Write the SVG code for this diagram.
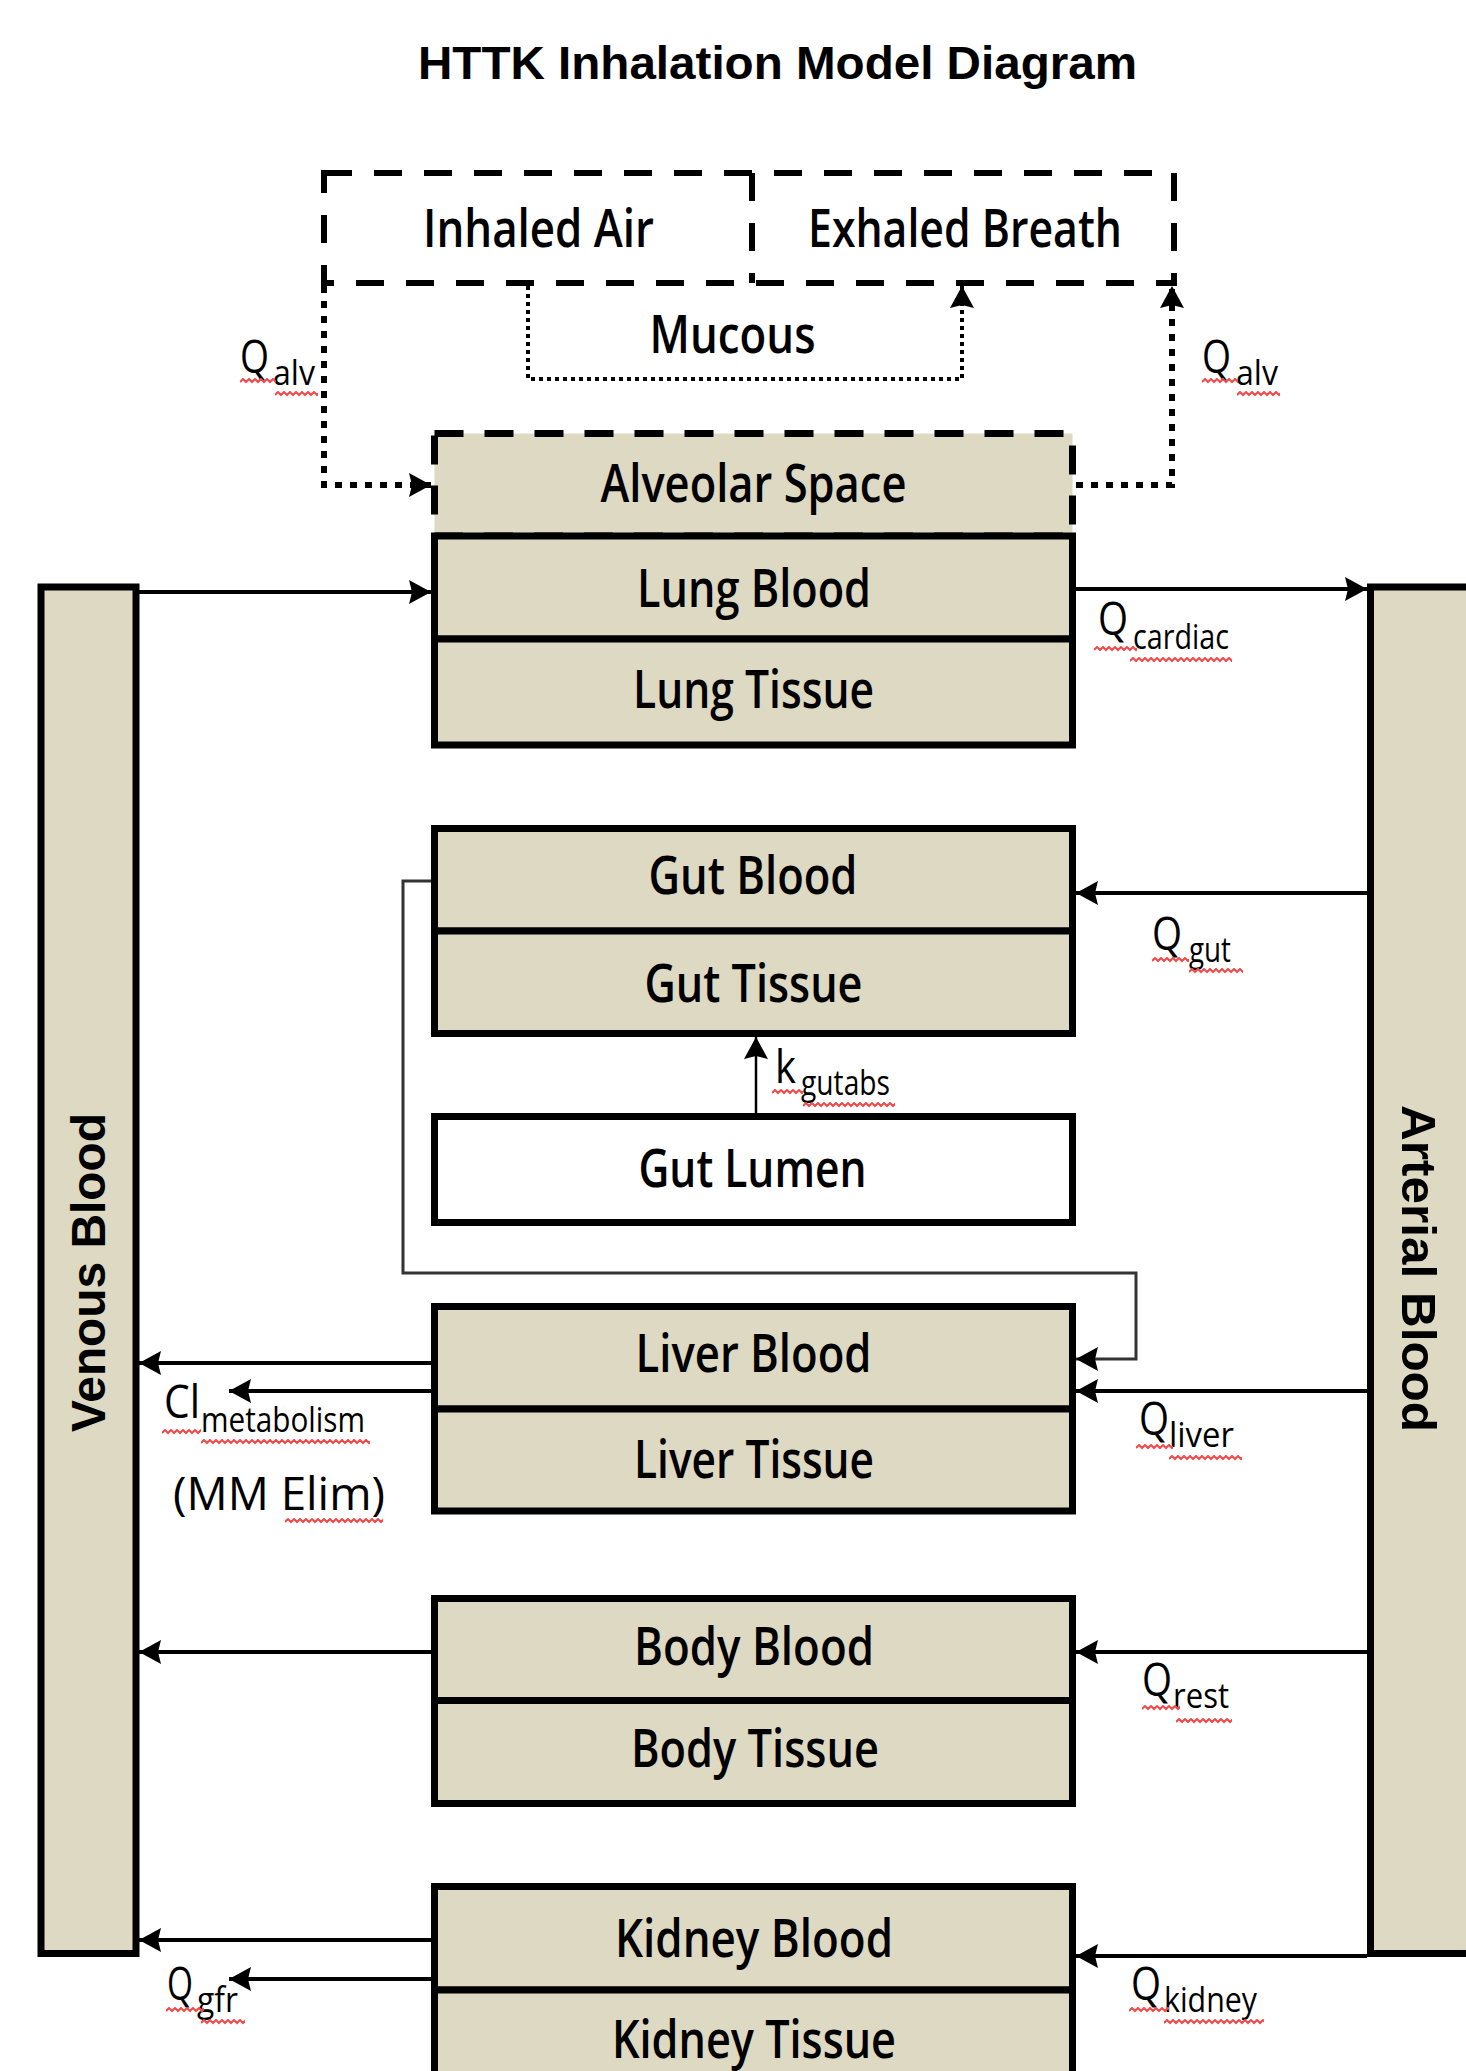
<svg xmlns="http://www.w3.org/2000/svg" xmlns:xlink="http://www.w3.org/1999/xlink" width="1466" height="2071" viewBox="0 0 1466 2071">
<style>
.title{font-family:"Liberation Sans",Arial,sans-serif;font-weight:bold;font-size:47px;text-anchor:middle;fill:#000}
.bar{fill:#DDD9C3;stroke:#000;stroke-width:7}
.barlbl{font-family:"Liberation Sans",Arial,sans-serif;font-weight:bold;font-size:48px;text-anchor:middle;fill:#000}
.box{fill:#DDD9C3;stroke:#000;stroke-width:7}
.lumen{fill:#fff;stroke:#000;stroke-width:7}
.dbox{fill:none;stroke:#000;stroke-width:6;stroke-dasharray:28 22}
.dalv{fill:#DDD9C3;stroke:#000;stroke-width:7;stroke-dasharray:29 21}
.t{font-family:"Open Sans","Noto Sans",sans-serif;font-size:52px;font-weight:600;text-anchor:middle;fill:#000}
.q{font-family:"Open Sans","Noto Sans",sans-serif;font-size:46px;fill:#000}
.sub{font-size:34px}
.cn{fill:none;stroke:#000;stroke-width:4}
.thin{fill:none;stroke:#000;stroke-width:2.5}
.gray{fill:none;stroke:#333;stroke-width:3}
.dot{fill:none;stroke:#000;stroke-width:6;stroke-dasharray:7 8}
.fdot{fill:none;stroke:#000;stroke-width:4;stroke-dasharray:4 4}
.zz{fill:none;stroke:#f44848;stroke-width:2}
</style>
<defs>
<marker id="ah" viewBox="0 0 22 24" refX="22" refY="12" markerWidth="22" markerHeight="24" markerUnits="userSpaceOnUse" orient="auto">
<path d="M0,0 L22,12 L0,24 L3,12 Z" fill="#000"/>
</marker>
<path id="zig" class="zz" d="M0 4l3-3 3 3 3-3 3 3 3-3 3 3 3-3 3 3 3-3 3 3 3-3 3 3 3-3 3 3 3-3 3 3 3-3 3 3 3-3 3 3 3-3 3 3 3-3 3 3 3-3 3 3 3-3 3 3 3-3 3 3 3-3 3 3 3-3 3 3 3-3 3 3 3-3 3 3 3-3 3 3 3-3 3 3 3-3 3 3 3-3 3 3 3-3 3 3 3-3 3 3 3-3 3 3 3-3 3 3 3-3 3 3 3-3 3 3 3-3 3 3"/>
</defs>

<text class="title" x="777.5" y="79" textLength="719" lengthAdjust="spacingAndGlyphs">HTTK Inhalation Model Diagram</text>

<g id="venous-blood">
<rect class="bar" x="41" y="587" width="95" height="1366.5"/>
<text class="barlbl" transform="translate(105,1272.5) rotate(-90)" textLength="319" lengthAdjust="spacingAndGlyphs">Venous Blood</text>
</g>
<g id="arterial-blood">
<rect class="bar" x="1370.5" y="587" width="110" height="1366.5"/>
<text class="barlbl" transform="translate(1402,1268.5) rotate(90)" textLength="327" lengthAdjust="spacingAndGlyphs">Arterial Blood</text>
</g>

<g id="air">
<rect class="dbox" x="324" y="173" width="850" height="110"/>
<line class="dbox" x1="752" y1="173" x2="752" y2="283"/>
</g>
<g id="inhaled-air">
<text class="t" x="538.5" y="247" textLength="231" lengthAdjust="spacingAndGlyphs">Inhaled Air</text>
</g>
<g id="exhaled-breath">
<text class="t" x="965" y="247" textLength="314" lengthAdjust="spacingAndGlyphs">Exhaled Breath</text>
</g>
<g id="mucous">
<text class="t" x="732.5" y="353" textLength="166" lengthAdjust="spacingAndGlyphs">Mucous</text>
</g>

<g id="alveolar-space">
<rect class="dalv" x="434.5" y="433.5" width="638" height="102.5"/>
<text class="t" x="753.5" y="502" textLength="306" lengthAdjust="spacingAndGlyphs">Alveolar Space</text>
</g>
<g id="lung-blood">
<rect class="box" x="434.5" y="536" width="638" height="103"/>
<text class="t" x="754" y="607" textLength="234" lengthAdjust="spacingAndGlyphs">Lung Blood</text>
</g>
<g id="lung-tissue">
<rect class="box" x="434.5" y="639" width="638" height="106"/>
<text class="t" x="753.5" y="708" textLength="241" lengthAdjust="spacingAndGlyphs">Lung Tissue</text>
</g>

<g id="gut-blood">
<rect class="box" x="434.5" y="828.5" width="638" height="102.5"/>
<text class="t" x="753" y="894" textLength="209" lengthAdjust="spacingAndGlyphs">Gut Blood</text>
</g>
<g id="gut-tissue">
<rect class="box" x="434.5" y="931" width="638" height="102.5"/>
<text class="t" x="753.5" y="1002" textLength="218" lengthAdjust="spacingAndGlyphs">Gut Tissue</text>
</g>
<g id="gut-lumen">
<rect class="lumen" x="434.5" y="1116.5" width="638" height="106"/>
<text class="t" x="752.5" y="1187" textLength="228" lengthAdjust="spacingAndGlyphs">Gut Lumen</text>
</g>

<g id="liver-blood">
<rect class="box" x="434.5" y="1306.5" width="638" height="102.5"/>
<text class="t" x="753.5" y="1372" textLength="236" lengthAdjust="spacingAndGlyphs">Liver Blood</text>
</g>
<g id="liver-tissue">
<rect class="box" x="434.5" y="1409" width="638" height="102"/>
<text class="t" x="754" y="1478" textLength="240" lengthAdjust="spacingAndGlyphs">Liver Tissue</text>
</g>

<g id="body-blood">
<rect class="box" x="434.5" y="1598.5" width="638" height="102"/>
<text class="t" x="754" y="1665" textLength="240" lengthAdjust="spacingAndGlyphs">Body Blood</text>
</g>
<g id="body-tissue">
<rect class="box" x="434.5" y="1700.5" width="638" height="103"/>
<text class="t" x="755" y="1767" textLength="248" lengthAdjust="spacingAndGlyphs">Body Tissue</text>
</g>

<g id="kidney-blood">
<rect class="box" x="434.5" y="1886.5" width="638" height="103.5"/>
<text class="t" x="754" y="1957" textLength="278" lengthAdjust="spacingAndGlyphs">Kidney Blood</text>
</g>
<g id="kidney-tissue">
<rect class="box" x="434.5" y="1990" width="638" height="105"/>
<text class="t" x="754" y="2058" textLength="284" lengthAdjust="spacingAndGlyphs">Kidney Tissue</text>
</g>

<g id="connectors">
<path class="dot" d="M324,286 V485 H431" marker-end="url(#ah)"/>
<path class="dot" d="M1076,485 H1172 V286" marker-end="url(#ah)"/>
<path class="fdot" d="M528,286 V379 H962 V286" marker-end="url(#ah)"/>
<path class="cn" d="M139,592 H431" marker-end="url(#ah)"/>
<path class="cn" d="M1076,589 H1367" marker-end="url(#ah)"/>
<path class="cn" d="M1367,893 H1076" marker-end="url(#ah)"/>
<path class="thin" d="M756,1113 V1037" marker-end="url(#ah)"/>
<path class="gray" d="M431,881 H403 V1273 H1136 V1359 H1076" marker-end="url(#ah)"/>
<path class="cn" d="M431,1363 H139" marker-end="url(#ah)"/>
<path class="cn" d="M431,1391 H229" marker-end="url(#ah)"/>
<path class="cn" d="M1367,1391 H1076" marker-end="url(#ah)"/>
<path class="cn" d="M431,1652 H139" marker-end="url(#ah)"/>
<path class="cn" d="M1367,1652 H1076" marker-end="url(#ah)"/>
<path class="cn" d="M431,1940 H139" marker-end="url(#ah)"/>
<path class="cn" d="M431,1979 H229" marker-end="url(#ah)"/>
<path class="cn" d="M1367,1956 H1076" marker-end="url(#ah)"/>

<text class="q"><tspan x="240" y="373" textLength="29" lengthAdjust="spacingAndGlyphs">Q</tspan><tspan class="sub" x="273" y="385" textLength="42" lengthAdjust="spacingAndGlyphs">alv</tspan></text>
<text class="q"><tspan x="1202" y="373" textLength="29" lengthAdjust="spacingAndGlyphs">Q</tspan><tspan class="sub" x="1236" y="385" textLength="42" lengthAdjust="spacingAndGlyphs">alv</tspan></text>
<text class="q"><tspan x="1098" y="635" textLength="30" lengthAdjust="spacingAndGlyphs">Q</tspan><tspan class="sub" x="1133" y="649" textLength="96" lengthAdjust="spacingAndGlyphs">cardiac</tspan></text>
<text class="q"><tspan x="1152" y="950" textLength="30" lengthAdjust="spacingAndGlyphs">Q</tspan><tspan class="sub" x="1189" y="962" textLength="42" lengthAdjust="spacingAndGlyphs">gut</tspan></text>
<text class="q"><tspan x="775" y="1083" textLength="21" lengthAdjust="spacingAndGlyphs">k</tspan><tspan class="sub" x="801" y="1095" textLength="89" lengthAdjust="spacingAndGlyphs">gutabs</tspan></text>
<text class="q"><tspan x="164" y="1418" textLength="36" lengthAdjust="spacingAndGlyphs">Cl</tspan><tspan class="sub" x="201" y="1432" textLength="164" lengthAdjust="spacingAndGlyphs">metabolism</tspan></text>
<text class="q" x="173" y="1510" textLength="212" lengthAdjust="spacingAndGlyphs">(MM Elim)</text>
<text class="q"><tspan x="1139" y="1435" textLength="30" lengthAdjust="spacingAndGlyphs">Q</tspan><tspan class="sub" x="1169" y="1447" textLength="65" lengthAdjust="spacingAndGlyphs">liver</tspan></text>
<text class="q"><tspan x="1142" y="1696" textLength="30" lengthAdjust="spacingAndGlyphs">Q</tspan><tspan class="sub" x="1173" y="1708" textLength="56" lengthAdjust="spacingAndGlyphs">rest</tspan></text>
<text class="q"><tspan x="167" y="2000" textLength="26" lengthAdjust="spacingAndGlyphs">Q</tspan><tspan class="sub" x="197" y="2012" textLength="41" lengthAdjust="spacingAndGlyphs">gfr</tspan></text>
<text class="q"><tspan x="1131" y="2000" textLength="30" lengthAdjust="spacingAndGlyphs">Q</tspan><tspan class="sub" x="1164" y="2012" textLength="93" lengthAdjust="spacingAndGlyphs">kidney</tspan></text>

<g id="spellcheck-marks">
<svg x="240" y="378" width="36" height="6"><use xlink:href="#zig"/></svg>
<svg x="275" y="391" width="43" height="6"><use xlink:href="#zig"/></svg>
<svg x="1202" y="378" width="36" height="6"><use xlink:href="#zig"/></svg>
<svg x="1237" y="391" width="43" height="6"><use xlink:href="#zig"/></svg>
<svg x="1094" y="646" width="43" height="6"><use xlink:href="#zig"/></svg>
<svg x="1130" y="657" width="102" height="6"><use xlink:href="#zig"/></svg>
<svg x="1152" y="957" width="37" height="6"><use xlink:href="#zig"/></svg>
<svg x="1189" y="968" width="54" height="6"><use xlink:href="#zig"/></svg>
<svg x="772" y="1089" width="31" height="6"><use xlink:href="#zig"/></svg>
<svg x="803" y="1102" width="92" height="6"><use xlink:href="#zig"/></svg>
<svg x="162" y="1429" width="39" height="6"><use xlink:href="#zig"/></svg>
<svg x="201" y="1439" width="169" height="6"><use xlink:href="#zig"/></svg>
<svg x="285" y="1518" width="98" height="6"><use xlink:href="#zig"/></svg>
<svg x="1136" y="1444" width="37" height="6"><use xlink:href="#zig"/></svg>
<svg x="1169" y="1455" width="73" height="6"><use xlink:href="#zig"/></svg>
<svg x="1142" y="1705" width="38" height="6"><use xlink:href="#zig"/></svg>
<svg x="1176" y="1718" width="56" height="6"><use xlink:href="#zig"/></svg>
<svg x="166" y="2007" width="38" height="6"><use xlink:href="#zig"/></svg>
<svg x="201" y="2019" width="44" height="6"><use xlink:href="#zig"/></svg>
<svg x="1129" y="2007" width="40" height="6"><use xlink:href="#zig"/></svg>
<svg x="1164" y="2019" width="100" height="6"><use xlink:href="#zig"/></svg>
</g>
</g>
</svg>
